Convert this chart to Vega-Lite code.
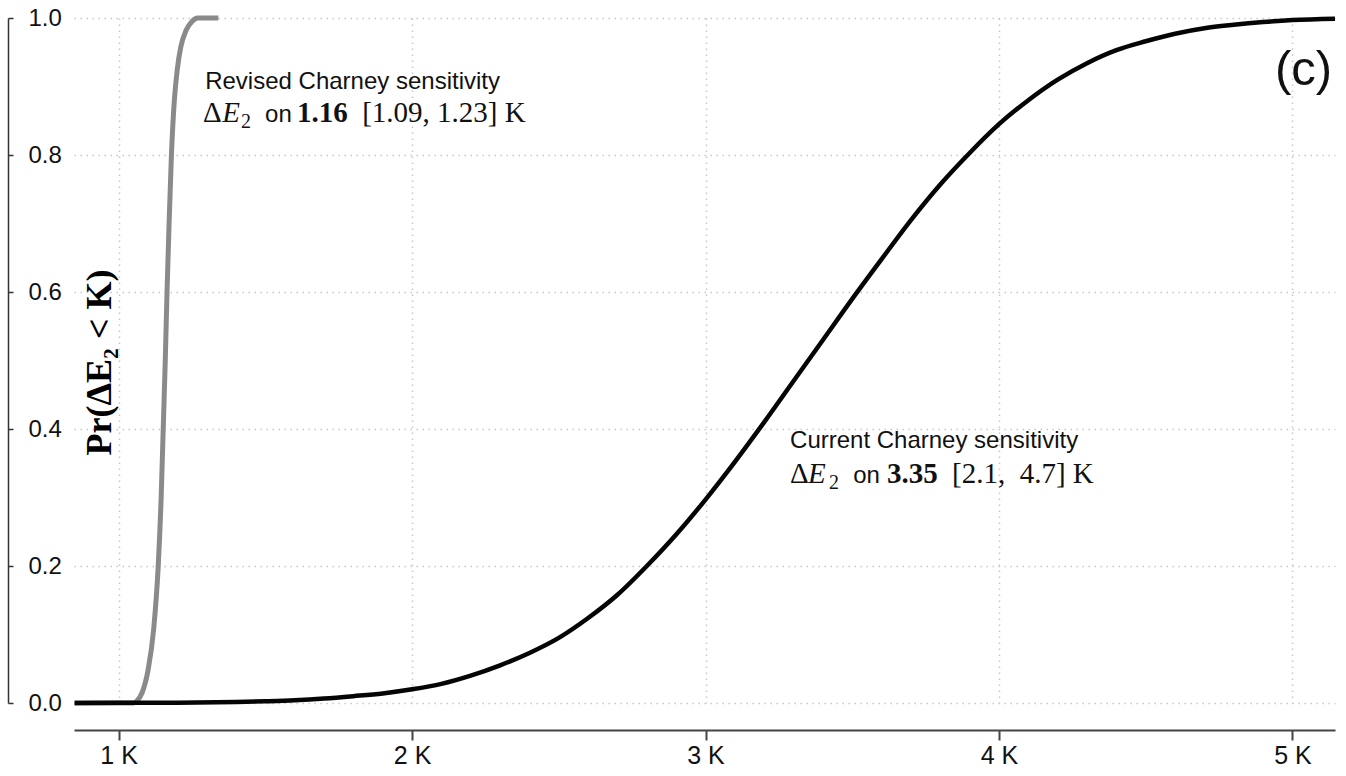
{
  "$schema": "https://vega.github.io/schema/vega-lite/v6.json",
  "width": 1261,
  "height": 685,
  "autosize": {"type": "none"},
  "padding": {"left": 74, "top": 18, "right": 11, "bottom": 73},
  "background": "white",
  "config": {"view": {"stroke": null}, "font": "Liberation Sans"},
  "encoding": {
    "x": {
      "field": "x", "type": "quantitative",
      "scale": {"domain": [0.848, 5.145], "nice": false, "zero": false},
      "axis": {
        "values": [1, 2, 3, 4, 5], "labelExpr": "datum.value + ' K'",
        "offset": 27, "grid": true, "gridColor": "#c8c8c8", "gridDash": [1.5, 4.5], "gridWidth": 1.5,
        "domainColor": "#444", "domainWidth": 2, "tickColor": "#444", "tickWidth": 2, "tickSize": 10,
        "labelFontSize": 25, "labelColor": "#111", "labelPadding": 3, "labelFlush": false,
        "labelFont": "Liberation Sans", "title": null
      }
    },
    "y": {
      "field": "y", "type": "quantitative",
      "scale": {"domain": [0, 1], "nice": false, "zero": false},
      "axis": {
        "values": [0, 0.2, 0.4, 0.6, 0.8, 1], "format": ".1f",
        "offset": 66, "tickSize": -5, "tickColor": "#333", "tickWidth": 1.5,
        "labelPadding": -15, "labelAlign": "left", "labelBaseline": "middle", "labelFlush": false,
        "labelFontSize": 24, "labelColor": "#111", "labelFont": "Liberation Sans",
        "grid": true, "gridColor": "#c8c8c8", "gridDash": [1.5, 4.5], "gridWidth": 1.5,
        "domainColor": "#333", "domainWidth": 1.5,
        "title": "Pr(ΔE₂ < K)", "titleFont": "Liberation Serif", "titleFontWeight": "bold",
        "titleFontSize": 36, "titleAngle": 270, "titleX": 91, "titleY": 344,
        "titleAlign": "center", "titleBaseline": "middle", "titleColor": "#000"
      }
    }
  },
  "layer": [
    {
      "data": {"values": [
        {"x": 0.85, "y": 0}, {"x": 1.0, "y": 0}, {"x": 1.05, "y": 0}, {"x": 1.062, "y": 0.003},
        {"x": 1.08, "y": 0.015}, {"x": 1.1, "y": 0.047}, {"x": 1.12, "y": 0.11}, {"x": 1.135, "y": 0.2},
        {"x": 1.145, "y": 0.3}, {"x": 1.152, "y": 0.4}, {"x": 1.159, "y": 0.5}, {"x": 1.165, "y": 0.6},
        {"x": 1.172, "y": 0.7}, {"x": 1.18, "y": 0.8}, {"x": 1.19, "y": 0.88}, {"x": 1.2, "y": 0.925},
        {"x": 1.212, "y": 0.958}, {"x": 1.23, "y": 0.982}, {"x": 1.25, "y": 0.995}, {"x": 1.27, "y": 1.0},
        {"x": 1.34, "y": 1.0}
      ]},
      "mark": {"type": "line", "color": "#8a8a8a", "strokeWidth": 5, "interpolate": "monotone"},
      "encoding": {}
    },
    {
      "data": {"values": [
        {"x": 0.85, "y": 0}, {"x": 1.0, "y": 0.0002}, {"x": 1.2, "y": 0.0004}, {"x": 1.4, "y": 0.0014},
        {"x": 1.5, "y": 0.0025}, {"x": 1.6, "y": 0.004}, {"x": 1.7, "y": 0.0065}, {"x": 1.8, "y": 0.01},
        {"x": 1.9, "y": 0.014}, {"x": 2.0, "y": 0.02}, {"x": 2.1, "y": 0.028}, {"x": 2.2, "y": 0.04},
        {"x": 2.3, "y": 0.055}, {"x": 2.4, "y": 0.073}, {"x": 2.5, "y": 0.095}, {"x": 2.6, "y": 0.124},
        {"x": 2.7, "y": 0.158}, {"x": 2.8, "y": 0.2}, {"x": 2.9, "y": 0.246}, {"x": 3.0, "y": 0.297},
        {"x": 3.1, "y": 0.352}, {"x": 3.2, "y": 0.41}, {"x": 3.3, "y": 0.47}, {"x": 3.4, "y": 0.53},
        {"x": 3.5, "y": 0.59}, {"x": 3.6, "y": 0.648}, {"x": 3.7, "y": 0.705}, {"x": 3.8, "y": 0.757},
        {"x": 3.9, "y": 0.803}, {"x": 4.0, "y": 0.845}, {"x": 4.1, "y": 0.88}, {"x": 4.2, "y": 0.91},
        {"x": 4.3, "y": 0.934}, {"x": 4.4, "y": 0.953}, {"x": 4.5, "y": 0.966}, {"x": 4.6, "y": 0.977},
        {"x": 4.7, "y": 0.985}, {"x": 4.8, "y": 0.99}, {"x": 4.9, "y": 0.994}, {"x": 5.0, "y": 0.997},
        {"x": 5.145, "y": 0.999}
      ]},
      "mark": {"type": "line", "color": "#050505", "strokeWidth": 4.5, "interpolate": "monotone"},
      "encoding": {}
    },
    {
      "data": {"values": [
        {"x": 1.295, "y": 0.896, "t": "Revised Charney sensitivity"},
        {"x": 3.288, "y": 0.372, "t": "Current Charney sensitivity"},
        {"x": 1.499, "y": 0.848, "t": "on"},
        {"x": 3.503, "y": 0.321, "t": "on"}
      ]},
      "mark": {"type": "text", "align": "left", "baseline": "alphabetic", "font": "Liberation Sans", "fontSize": 24, "color": "#111"},
      "encoding": {"text": {"field": "t"}}
    },
    {
      "data": {"values": [
        {"x": 1.288, "y": 0.848, "t": "Δ"},
        {"x": 1.83, "y": 0.848, "t": "[1.09, 1.23] K"},
        {"x": 3.288, "y": 0.321, "t": "Δ"},
        {"x": 3.84, "y": 0.321, "t": "[2.1,\u00a0\u00a04.7] K"}
      ]},
      "mark": {"type": "text", "align": "left", "baseline": "alphabetic", "font": "Liberation Serif", "fontSize": 29, "color": "#111"},
      "encoding": {"text": {"field": "t"}}
    },
    {
      "data": {"values": [
        {"x": 1.353, "y": 0.848, "t": "E"},
        {"x": 3.349, "y": 0.321, "t": "E"}
      ]},
      "mark": {"type": "text", "align": "left", "baseline": "alphabetic", "font": "Liberation Serif", "fontStyle": "italic", "fontSize": 29, "color": "#111"},
      "encoding": {"text": {"field": "t"}}
    },
    {
      "data": {"values": [
        {"x": 1.417, "y": 0.848, "t": "2"},
        {"x": 3.421, "y": 0.321, "t": "2"}
      ]},
      "mark": {"type": "text", "align": "left", "baseline": "alphabetic", "dy": 6, "font": "Liberation Serif", "fontSize": 20, "color": "#111"},
      "encoding": {"text": {"field": "t"}}
    },
    {
      "data": {"values": [
        {"x": 1.608, "y": 0.848, "t": "1.16"},
        {"x": 3.618, "y": 0.321, "t": "3.35"}
      ]},
      "mark": {"type": "text", "align": "left", "baseline": "alphabetic", "font": "Liberation Serif", "fontWeight": "bold", "fontSize": 29, "color": "#111"},
      "encoding": {"text": {"field": "t"}}
    },
    {
      "data": {"values": [
        {"x": 5.135, "y": 0.902, "t": "(c)"}
      ]},
      "mark": {"type": "text", "align": "right", "baseline": "alphabetic", "font": "Liberation Sans", "fontSize": 49, "color": "#111"},
      "encoding": {"text": {"field": "t"}}
    }
  ]
}
